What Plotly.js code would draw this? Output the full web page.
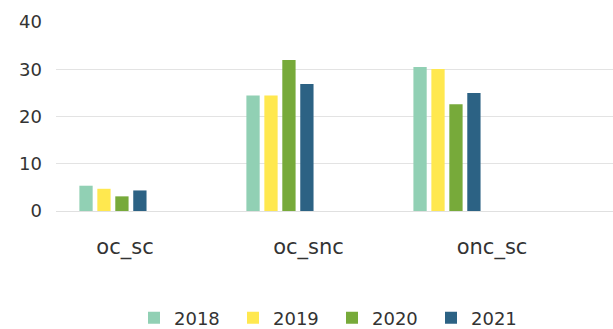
<!DOCTYPE html>
<html>
<head>
<meta charset="utf-8">
<script src="https://cdn.plot.ly/plotly-3.0.1.min.js"></script>
<style>html,body{margin:0;padding:0;background:#fff;}#chart{width:613px;height:329px;}</style>
</head>
<body>
<div id="chart"></div>
<script>
var categories = ['oc_sc', 'oc_snc', 'onc_sc'];
var seriesNames = ['2018', '2019', '2020', '2021'];
var v2018 = [5.35, 24.45, 30.5];
var v2019 = [4.7, 24.45, 30.05];
var v2020 = [3.1, 31.95, 22.6];
var v2021 = [4.35, 26.9, 24.95];
var colors = ['#91D0B4', '#FFE84F', '#77AA3A', '#2C6284'];
var yTicks = [0, 10, 20, 30, 40];

var values = [v2018, v2019, v2020, v2021];
var traces = values.map(function (v, i) {
  return {
    type: 'bar', x: categories, y: v, name: seriesNames[i],
    marker: {color: colors[i]}, xaxis: 'x', yaxis: 'y', hoverinfo: 'skip'
  };
});
traces.push({type: 'scatter', mode: 'none', x: categories, y: [null, null, null],
  xaxis: 'x2', yaxis: 'y', showlegend: false, hoverinfo: 'skip'});

var font = 'DejaVu Sans, sans-serif';
var layout = {
  width: 613, height: 329,
  margin: {l: 56, r: 0, t: 22, b: 118},
  paper_bgcolor: '#fff', plot_bgcolor: '#fff',
  barmode: 'group', bargap: 0.57, bargroupgap: 0.26,
  font: {family: font, color: '#333333', size: 18},
  xaxis: {type: 'category', categoryarray: categories, range: [-0.341, 2.994],
    showticklabels: false, showgrid: false, zeroline: false, showline: false, ticks: ''},
  xaxis2: {type: 'category', categoryarray: categories, overlaying: 'x', anchor: 'y', side: 'bottom',
    range: [-0.376, 2.659], showgrid: false, zeroline: false, showline: false, ticks: '',
    tickfont: {family: font, size: 21, color: '#333333'}, ticklabelstandoff: 21},
  yaxis: {range: [0, 40], tickvals: yTicks, showgrid: true, gridcolor: '#e3e3e3', gridwidth: 1,
    zeroline: true, zerolinecolor: '#e0e0e0', zerolinewidth: 1, showline: false, ticks: '',
    tickfont: {family: font, size: 18, color: '#333333'}, ticklabelstandoff: 13},
  showlegend: true,
  legend: {orientation: 'h', x: 0.5416, xanchor: 'center', xref: 'container',
    y: 0.0334, yanchor: 'middle', yref: 'container', entrywidth: 54,
    font: {family: font, size: 18, color: '#333333'}, traceorder: 'normal'}
};
Plotly.newPlot('chart', traces, layout, {displayModeBar: false, staticPlot: true});
</script>
</body>
</html>
